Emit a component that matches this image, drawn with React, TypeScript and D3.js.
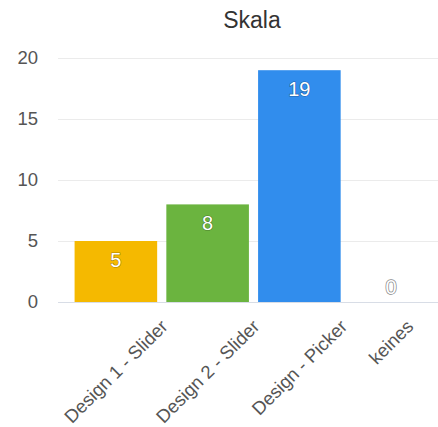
import React, { useEffect, useRef } from "react";
import * as d3 from "d3";

const categories = ["Design 1 - Slider", "Design 2 - Slider", "Design - Picker", "keines"];
const values = [5, 8, 19, 0];
const colors = ["#f5b900", "#6bb43f", "#318ded", "#9a9a9a"];
const yTicks = [0, 5, 10, 15, 20];
const title = "Skala";

const W = 438;
const H = 427;
const FONT = "'Liberation Sans', Arial, Helvetica, sans-serif";

export default function App() {
  const ref = useRef<SVGSVGElement>(null);

  useEffect(() => {
    const svg = d3.select(ref.current);
    svg.selectAll("*").remove();

    const x = d3.scaleBand<string>().domain(categories).range([70, 437]).paddingInner(0.1).paddingOuter(0.05);
    const y = d3.scaleLinear().domain([0, 20]).range([302, 58]);

    // title
    svg.append("text")
      .attr("x", 252).attr("y", 28)
      .attr("text-anchor", "middle")
      .attr("font-family", FONT).attr("font-size", 23)
      .attr("fill", "#333333")
      .text(title);

    // grid
    svg.append("g").selectAll("line").data(yTicks.filter(t => t !== 0)).join("line")
      .attr("x1", 58).attr("x2", W)
      .attr("y1", d => y(d) + 0.5).attr("y2", d => y(d) + 0.5)
      .attr("stroke", "#ebebeb").attr("stroke-width", 1);

    // y labels
    svg.append("g").selectAll("text").data(yTicks).join("text")
      .attr("x", 38).attr("y", d => y(d))
      .attr("dy", "0.35em")
      .attr("text-anchor", "end")
      .attr("font-family", FONT).attr("font-size", 18.5)
      .attr("fill", "#555555")
      .text(d => String(d));

    // bars
    svg.append("g").selectAll("rect").data(values).join("rect")
      .attr("x", (_d, i) => x(categories[i])!)
      .attr("width", x.bandwidth())
      .attr("y", d => y(d))
      .attr("height", d => y(0) - y(d))
      .attr("fill", (_d, i) => colors[i]);

    // axis line
    svg.append("line")
      .attr("x1", 58).attr("x2", W)
      .attr("y1", y(0) + 0.5).attr("y2", y(0) + 0.5)
      .attr("stroke", "#d8dde6").attr("stroke-width", 1);

    // data labels
    svg.append("g").selectAll("text").data(values).join("text")
      .attr("x", (_d, i) => x(categories[i])! + x.bandwidth() / 2)
      .attr("y", d => (d > 0 ? y(d) + 19 : y(0) - 15))
      .attr("dy", "0.35em")
      .attr("text-anchor", "middle")
      .attr("font-family", FONT).attr("font-size", 20)
      .attr("fill", "#ffffff")
      .attr("stroke", (_d, i) => (values[i] > 0 ? "rgba(0,0,0,0.35)" : "#8a8a8a"))
      .attr("stroke-width", (_d, i) => (values[i] > 0 ? 1.2 : 1.5))
      .attr("paint-order", "stroke")
      .text(d => String(d));

    // x labels
    const xl = svg.append("g");
    categories.forEach((c) => {
      const cx = x(c)! + x.bandwidth() / 2;
      const t = xl.append("text")
        .attr("text-anchor", "middle")
        .attr("font-family", FONT).attr("font-size", 18.5)
        .attr("fill", "#555555")
        .text(c);
      const w = (t.node() as SVGTextElement).getComputedTextLength();
      const cy = 323 + (w / 2) * Math.SQRT1_2;
      t.attr("transform", `translate(${cx},${cy}) rotate(-45)`).attr("dy", "0.35em");
    });
  }, []);

  return (
    <svg
      ref={ref}
      width={W}
      height={H}
      style={{ position: "absolute", left: 0, top: 0, background: "#ffffff" }}
    />
  );
}
